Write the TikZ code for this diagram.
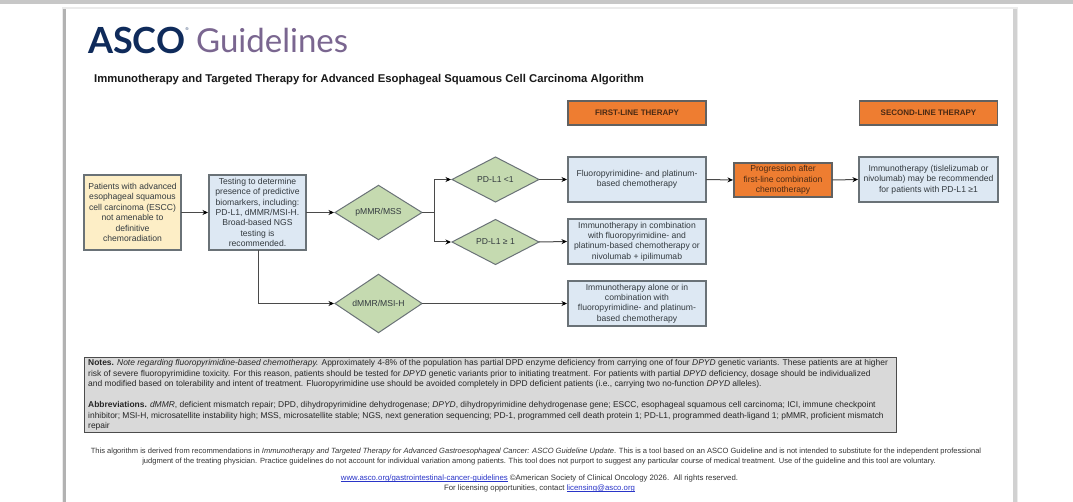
\documentclass[tikz,border=0pt]{standalone}
\usepackage{fontspec}
\setmainfont{Liberation Sans}
\newfontfamily\logofont{Lato}
\usetikzlibrary{shapes.geometric,arrows.meta}
\definecolor{edgegrey}{HTML}{6A7277}
\definecolor{linegrey}{HTML}{4A4A4A}
\definecolor{txtgrey}{HTML}{333A3F}
\definecolor{bluefill}{HTML}{DDE8F3}
\definecolor{yellowfill}{HTML}{FDEEC6}
\definecolor{greenfill}{HTML}{C5DAB0}
\definecolor{orangefill}{HTML}{EE7D31}
\definecolor{notefill}{HTML}{D9D9D9}
\definecolor{asconavy}{HTML}{0F2B5B}
\definecolor{ascopurple}{HTML}{7A6690}
\definecolor{linkblue}{HTML}{2A35C8}
\definecolor{orangetext}{HTML}{4A2A14}
\newsavebox{\linkbox}
\newcommand{\linkul}[1]{\sbox{\linkbox}{\textcolor{linkblue}{#1}}\rlap{\textcolor{linkblue}{\rule[-1pt]{\wd\linkbox}{0.5pt}}}\usebox{\linkbox}}
\tikzset{
  boxbase/.style={draw=edgegrey,line width=1.1pt,inner sep=0pt,outer sep=0pt,align=center,text=txtgrey,font=\fontsize{8.6}{10.4}\selectfont},
  bluebox/.style={boxbase,fill=bluefill},
  yellowbox/.style={boxbase,fill=yellowfill},
  orangebox/.style={boxbase,fill=orangefill,draw=black!62,text=orangetext},
  headbox/.style={orangebox,font=\fontsize{8}{10}\selectfont\bfseries,minimum width=138pt,minimum height=24pt},
  dia/.style={diamond,draw=edgegrey,line width=1pt,fill=greenfill,inner sep=0pt,outer sep=0pt,minimum width=87pt,minimum height=45pt,text=txtgrey,font=\fontsize{8.6}{10.4}\selectfont},
  conn/.style={draw=linegrey,line width=1pt,-{Stealth[length=5.5pt,width=5pt,black]},shorten >=1pt},
  plainline/.style={draw=linegrey,line width=1pt},
  noteline/.style={anchor=west,inner sep=0pt,text=black!85,font=\fontsize{8.45}{10.4}\selectfont},
  footline/.style={anchor=base,inner sep=0pt,text=black!80,font=\fontsize{7.55}{9.5}\selectfont},
  footbig/.style={footline,font=\fontsize{7.8}{9.5}\selectfont},
}
\begin{document}
\begin{tikzpicture}[x=1pt,y=-1pt]
\useasboundingbox (0,0) rectangle (1073,502);
% screenshot frame
\fill[white] (0,0) rectangle (1073,502);
\fill[black!22] (0,0) rectangle (1073,4);
\fill[black!8] (62,7) rectangle (1018,502);
\fill[black!30] (63,9) rectangle (66,502);
\fill[black!18] (1013,9) rectangle (1017,502);
\fill[white] (66,9) rectangle (1013,502);
% logo and title
\node[anchor=west,inner sep=0pt,text=asconavy,font=\fontsize{36}{38}\logofont\bfseries] (asco) at (88,40) {ASCO};
\node[inner sep=0pt,text=asconavy,font=\fontsize{4}{4}\selectfont] (reg) at (187,29) {®};
\node[anchor=west,inner sep=0pt,text=ascopurple,font=\fontsize{33}{36}\logofont] (guide) at (196,40) {Guidelines};
\node[anchor=west,inner sep=0pt,text=black!90,font=\fontsize{11.3}{13}\selectfont\bfseries] (title) at (94,79.5) {Immunotherapy and Targeted Therapy for Advanced Esophageal Squamous Cell Carcinoma Algorithm};
% headers
\node[headbox] (first) at (637,113) {FIRST-LINE THERAPY};
\node[headbox] (second) at (928.5,113) {SECOND-LINE THERAPY};
% boxes
\node[yellowbox,minimum width=97pt,minimum height=75pt] (patients) at (132.5,212.5) {Patients with advanced\\esophageal squamous\\cell carcinoma (ESCC)\\not amenable to\\definitive\\chemoradiation};
\node[bluebox,minimum width=97pt,minimum height=75pt] (test) at (257.5,212.5) {Testing to determine\\presence of predictive\\biomarkers, including:\\PD-L1, dMMR/MSI-H.\\Broad-based NGS\\testing is\\recommended.};
\node[dia] (pmmr) at (378.5,212.5) {pMMR/MSS};
\node[dia] (low) at (495.5,179.5) {PD-L1 <1};
\node[dia] (high) at (495.5,242) {PD-L1 ≥ 1};
\node[dia] (dmmr) at (378.5,303.5) {dMMR/MSI-H};
\node[bluebox,minimum width=138pt,minimum height=45pt] (fluoro) at (637,179.5) {Fluoropyrimidine- and platinum-\\based chemotherapy};
\node[bluebox,minimum width=138pt,minimum height=45pt] (combo) at (637,241.5) {Immunotherapy in combination\\with fluoropyrimidine- and\\platinum-based chemotherapy or\\nivolumab + ipilimumab};
\node[bluebox,minimum width=138pt,minimum height=45pt] (alone) at (637,303.5) {Immunotherapy alone or in\\combination with\\fluoropyrimidine- and platinum-\\based chemotherapy};
\node[orangebox,minimum width=98pt,minimum height=34pt] (prog) at (783,180) {Progression after\\first-line combination\\chemotherapy};
\node[bluebox,minimum width=139pt,minimum height=45pt] (later) at (928.5,179.5) {Immunotherapy (tislelizumab or\\nivolumab) may be recommended\\for patients with PD-L1 ≥1};
% connectors
\coordinate (junc) at (434,212.5);
\coordinate (turn) at (258,303.5);
\draw[conn] (patients.east) -- (test.west);
\draw[conn] (test.east) -- (pmmr.west);
\draw[plainline] (pmmr.east) -- (junc);
\draw[conn] (junc) |- (low.west);
\draw[conn] (junc) |- (high.west);
\draw[conn] (turn |- test.south) -- (turn) -- (dmmr.west);
\draw[conn] (low.east) -- (fluoro.west);
\draw[conn] (high.east) -- (combo.west);
\draw[conn] (dmmr.east) -- (alone.west);
\draw[conn] (fluoro.east) -- (prog.west);
\draw[conn] (prog.east) -- (later.west);
% notes
\node[draw=black!70,line width=1pt,fill=notefill,minimum width=812pt,minimum height=75pt,inner sep=0pt,outer sep=0pt] (notes) at (490,394.5) {};
\node[noteline] (n1) at (88,363.5) {\textbf{Notes.} \textit{Note regarding fluoropyrimidine-based chemotherapy.} Approximately 4-8\% of the population has partial DPD enzyme deficiency from carrying one of four \textit{DPYD} genetic variants. These patients are at higher};
\node[noteline] (n2) at (88,374) {risk of severe fluoropyrimidine toxicity. For this reason, patients should be tested for \textit{DPYD} genetic variants prior to initiating treatment. For patients with partial \textit{DPYD} deficiency, dosage should be individualized};
\node[noteline] (n3) at (88,384.5) {and modified based on tolerability and intent of treatment. Fluoropyrimidine use should be avoided completely in DPD deficient patients (i.e., carrying two no-function \textit{DPYD} alleles).};
\node[noteline] (a1) at (88,405.5) {\textbf{Abbreviations.} \textit{dMMR}, deficient mismatch repair; DPD, dihydropyrimidine dehydrogenase; \textit{DPYD}, dihydropyrimidine dehydrogenase gene; ESCC, esophageal squamous cell carcinoma; ICI, immune checkpoint};
\node[noteline] (a2) at (88,416) {inhibitor; MSI-H, microsatellite instability high; MSS, microsatellite stable; NGS, next generation sequencing; PD-1, programmed cell death protein 1; PD-L1, programmed death-ligand 1; pMMR, proficient mismatch};
\node[noteline] (a3) at (88,426.5) {repair};
% footer
\node[footline] (f1) at (536,453.5) {This algorithm is derived from recommendations in \textit{Immunotherapy and Targeted Therapy for Advanced Gastroesophageal Cancer: ASCO Guideline Update}. This is a tool based on an ASCO Guideline and is not intended to substitute for the independent professional};
\node[footline] (f2) at (539,463) {judgment of the treating physician. Practice guidelines do not account for individual variation among patients. This tool does not purport to suggest any particular course of medical treatment. Use of the guideline and this tool are voluntary.};
\node[footbig] (f3) at (539.5,480) {\linkul{www.asco.org/gastrointestinal-cancer-guidelines} ©American Society of Clinical Oncology 2026.~~All rights reserved.};
\node[footbig] (f4) at (539.5,490) {For licensing opportunities, contact \linkul{licensing@asco.org}};
\end{tikzpicture}
\end{document}
